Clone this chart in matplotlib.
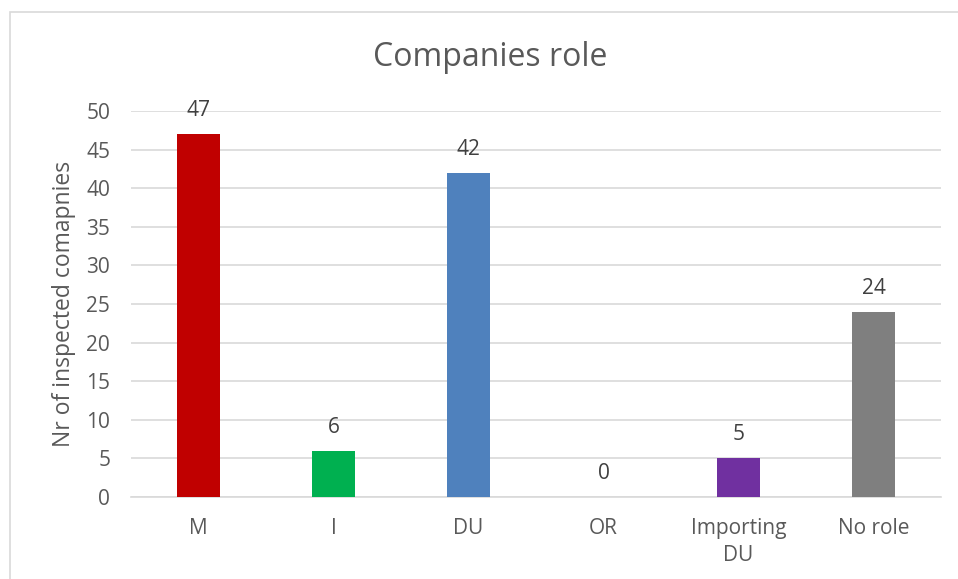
import numpy as np
import matplotlib.pyplot as plt
from matplotlib.patches import Rectangle

# === Data ===
roles = ["M", "I", "DU", "OR", "Importing\nDU", "No role"]
counts = [47, 6, 42, 0, 5, 24]
bar_colors = ["#C00000", "#00B050", "#4F81BD", "#A5A5A5", "#7030A0", "#7F7F7F"]

plt.rcParams["font.family"] = ["Open Sans", "DejaVu Sans"]
txt = "#595959"

W, H = 958, 579
fig = plt.figure(figsize=(W / 100, H / 100), dpi=100)

# outer chart frame (cropped on right and bottom)
fig.patches.append(Rectangle((10 / W, -0.05), 1.2, 1 - 12 / H + 0.05,
                             transform=fig.transFigure, fill=False,
                             edgecolor="#D9D9D9", linewidth=1.2))

ax = fig.add_axes([131 / W, 1 - 497 / H, (941 - 131) / W, (497 - 111) / H])
x = np.arange(len(roles))
bars = ax.bar(x, counts, width=0.32, color=bar_colors, zorder=3)

for xi, v in zip(x, counts):
    ax.text(xi, v + 1.7, str(v), ha="center", va="bottom", fontsize=15, color="#404040")

ax.set_xlim(-0.5, len(roles) - 0.5)
ax.set_ylim(0, 50)
ax.set_yticks(range(0, 51, 5))
ax.set_xticks(x)
ax.set_xticklabels(roles, fontsize=15, color=txt, linespacing=1.4)
ax.tick_params(axis="y", labelsize=15, labelcolor=txt, length=0, pad=15)
ax.tick_params(axis="x", length=0, pad=15)
ax.grid(axis="y", color="#D9D9D9", linewidth=1.2, zorder=0)
for s in ["top", "right", "left"]:
    ax.spines[s].set_visible(False)
ax.spines["bottom"].set_color("#D9D9D9")
ax.spines["bottom"].set_linewidth(1.2)

ax.set_ylabel("Nr of inspected comapnies", fontsize=16.5, color=txt, labelpad=7)
fig.text(490 / W, 1 - 57 / H, "Companies role", ha="center", va="center", fontsize=23, color=txt)

fig.savefig("out.png", dpi=100, facecolor="white")
